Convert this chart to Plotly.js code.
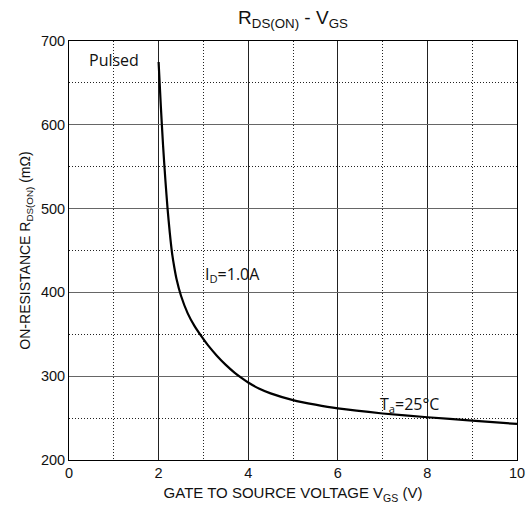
<!DOCTYPE html>
<html>
<head>
<meta charset="utf-8">
<script src="https://cdn.plot.ly/plotly-3.0.1.min.js"></script>
<style>html,body{margin:0;padding:0;background:#fff;}#chart{width:526px;height:513px;}</style>
</head>
<body>
<div id="chart"></div>
<script>
const vgs = [2.00, 2.05, 2.10, 2.15, 2.20, 2.25, 2.30, 2.35, 2.40, 2.50, 2.65, 2.80, 2.95, 3.10, 3.30, 3.50, 3.70, 3.85, 4.00, 4.25, 4.50, 5.00, 5.50, 6.00, 7.00, 8.00, 9.00, 10.00];
const rdson = [675, 622, 575, 535, 500, 471, 447, 430, 416, 396, 375, 360, 348, 337, 324.5, 313.5, 304, 298, 292.5, 285, 279.5, 271.5, 266, 261.5, 255.5, 251, 247, 243];
const xTicks = [0, 2, 4, 6, 8, 10];
const yTicks = [200, 300, 400, 500, 600, 700];
const notes = [
  {x: 0.40, y: 677, text: 'Pulsed', anchor: 'left'},
  {x: 3.64, y: 421, text: 'I<sub>D</sub>=1.0A', anchor: 'center'},
  {x: 7.61, y: 266, text: 'T<sub>a</sub>=25°C', anchor: 'center'}
];

const trace = {
  x: vgs, y: rdson, type: 'scatter', mode: 'lines',
  line: {color: '#000', width: 2.2, shape: 'spline', smoothing: 0.6},
  hoverinfo: 'skip'
};

const dotted = '1px,2px';

const layout = {
  width: 526, height: 513,
  margin: {l: 69, r: 9, t: 41, b: 53},
  paper_bgcolor: '#fff', plot_bgcolor: '#fff',
  showlegend: false,
  font: {family: 'Liberation Sans, Arial, sans-serif', size: 14.5, color: '#111'},
  title: {text: 'R<sub>DS(ON)</sub> - V<sub>GS</sub>', font: {size: 19, color: '#111'}, x: 0.557, xanchor: 'center', y: 0.966, yanchor: 'middle'},
  xaxis: {
    range: [0, 10], tickvals: xTicks, ticktext: xTicks.map(String),
    showgrid: true, gridcolor: '#222', gridwidth: 1,
    minor: {dtick: 1, tick0: 0, showgrid: true, gridcolor: '#222', griddash: dotted, gridwidth: 1},
    showline: true, linecolor: '#000', linewidth: 1, mirror: true,
    zeroline: false, ticks: '', ticklen: 0, fixedrange: true,
    tickfont: {size: 14.5},
    title: {text: 'GATE TO SOURCE VOLTAGE V<sub>GS</sub> (V)', font: {size: 15}, standoff: 7}
  },
  yaxis: {
    range: [200, 700], tickvals: yTicks, ticktext: yTicks.map(String),
    showgrid: true, gridcolor: '#666', gridwidth: 1,
    minor: {dtick: 50, tick0: 200, showgrid: true, gridcolor: '#222', griddash: dotted, gridwidth: 1},
    showline: true, linecolor: '#000', linewidth: 1, mirror: true,
    zeroline: false, ticks: '', ticklen: 0, fixedrange: true,
    tickfont: {size: 14.5},
    title: {text: 'ON-RESISTANCE R<sub>DS(ON)</sub> (mΩ)', font: {size: 14, family: 'Liberation Sans Narrow, Arial Narrow, sans-serif'}, standoff: 6}
  },
  annotations: notes.map(n => ({
    x: n.x, y: n.y, xref: 'x', yref: 'y', text: n.text, showarrow: false,
    xanchor: n.anchor, yanchor: 'middle',
    font: {family: 'Open Sans, Noto Sans, sans-serif', size: 16, color: '#111'}
  }))
};

Plotly.newPlot('chart', [trace], layout, {displayModeBar: false, staticPlot: true});
</script>
</body>
</html>
